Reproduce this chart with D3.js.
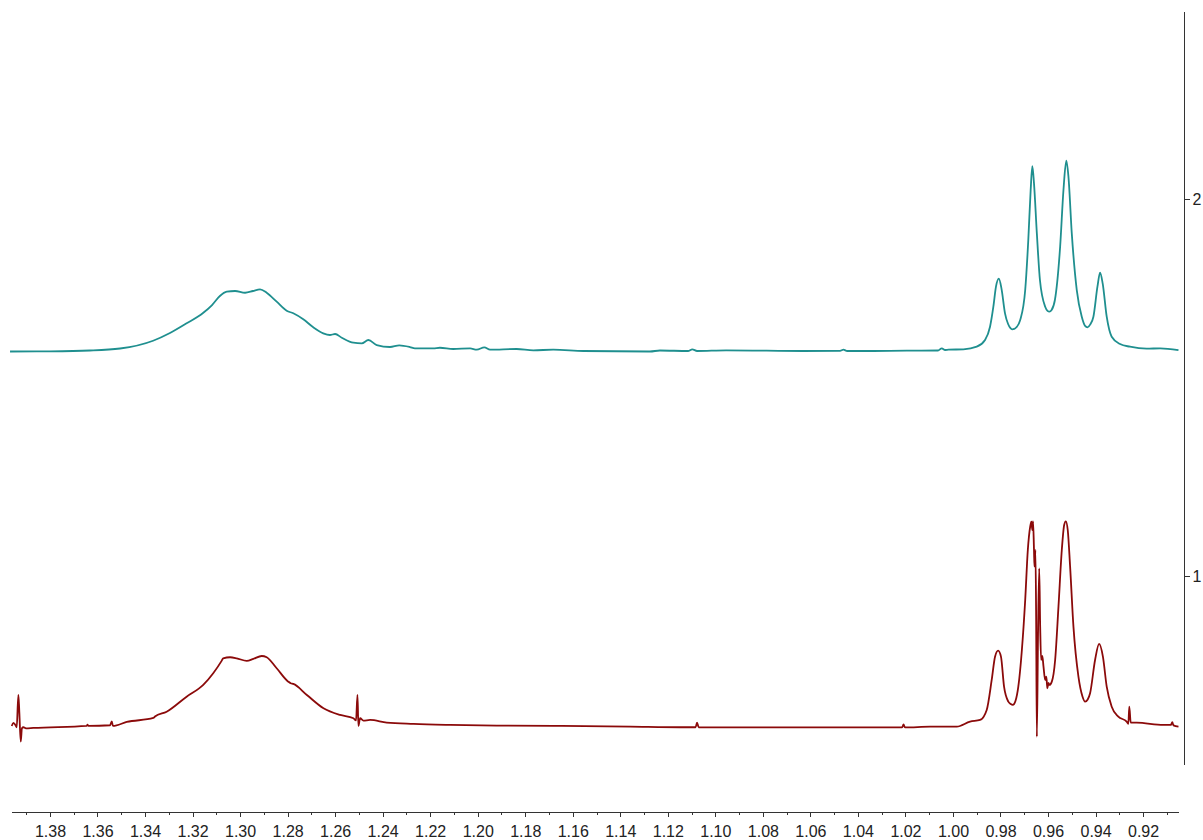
<!DOCTYPE html>
<html>
<head>
<meta charset="utf-8">
<script src="https://cdn.jsdelivr.net/npm/d3@7"></script>
<style>
  html, body { margin: 0; padding: 0; background: #fff; }
  svg { display: block; }
  .axis text { font-family: "Liberation Sans", Arial, sans-serif; font-size: 16px; fill: #222; }
  .axis path, .axis line { stroke: #333; stroke-width: 1; shape-rendering: crispEdges; }
</style>
</head>
<body>
<svg id="chart" width="1203" height="840"></svg>
<script>
// Chemical shift window (ppm), high field on the right
const ppmWindow = [1.3964, 0.9053];
// Stacked intensity scale shown on the right
const intensityWindow = [0.5, 2.5];
const intensityTicks = [1, 2];
const ppmTickLabels = ["1.38", "1.36", "1.34", "1.32", "1.30", "1.28", "1.26", "1.24",
  "1.22", "1.20", "1.18", "1.16", "1.14", "1.12", "1.10", "1.08", "1.06", "1.04",
  "1.02", "1.00", "0.98", "0.96", "0.94", "0.92"];
const ppmMinorTicks = ["1.39", "1.37", "1.35", "1.33", "1.31", "1.29", "1.27", "1.25",
  "1.23", "1.21", "1.19", "1.17", "1.15", "1.13", "1.11", "1.09", "1.07", "1.05",
  "1.03", "1.01", "0.99", "0.97", "0.95", "0.93", "0.91"];

// Upper spectrum: [ppm, intensity]
const upperSpectrum = [
  [1.3968, 1.5960], [1.3800, 1.5965], [1.3632, 1.5986], [1.3505, 1.6039],
  [1.3366, 1.6246], [1.3295, 1.6451], [1.3225, 1.6708], [1.3156, 1.6982],
  [1.3118, 1.7194], [1.3085, 1.7433], [1.3056, 1.7547], [1.3021, 1.7566],
  [1.2979, 1.7520], [1.2946, 1.7566], [1.2916, 1.7611], [1.2888, 1.7520],
  [1.2846, 1.7282], [1.2804, 1.7043], [1.2776, 1.6974], [1.2734, 1.6814],
  [1.2692, 1.6602], [1.2650, 1.6443], [1.2622, 1.6398], [1.2600, 1.6424],
  [1.2572, 1.6326], [1.2523, 1.6193], [1.2488, 1.6177], [1.2460, 1.6265],
  [1.2425, 1.6132], [1.2369, 1.6079], [1.2330, 1.6124], [1.2285, 1.6079],
  [1.2264, 1.6044], [1.2187, 1.6044], [1.2159, 1.6060], [1.2103, 1.6026],
  [1.2032, 1.6044], [1.2004, 1.6007], [1.1972, 1.6071], [1.1948, 1.6007],
  [1.1836, 1.6026], [1.1766, 1.5991], [1.1682, 1.6007], [1.1555, 1.5973],
  [1.1275, 1.5960], [1.1233, 1.5986], [1.1115, 1.5973], [1.1097, 1.6018],
  [1.1077, 1.5973], [1.0955, 1.5991], [1.0784, 1.5981], [1.0631, 1.5973],
  [1.0475, 1.5978], [1.0461, 1.6007], [1.0445, 1.5973], [1.0336, 1.5973],
  [1.0194, 1.5981], [1.0063, 1.5986], [1.0047, 1.6044], [1.0033, 1.5999],
  [1.0019, 1.6007], [0.9956, 1.6018], [0.9900, 1.6087], [0.9865, 1.6265],
  [0.9844, 1.6618], [0.9830, 1.7149], [0.9819, 1.7680], [0.9807, 1.7892],
  [0.9796, 1.7637], [0.9781, 1.6974], [0.9768, 1.6690], [0.9758, 1.6580],
  [0.9751, 1.6549], [0.9742, 1.6560], [0.9734, 1.6597], [0.9717, 1.6796],
  [0.9696, 1.7592], [0.9683, 1.8919],
  [0.9673, 2.0247], [0.9666, 2.0884], [0.9659, 2.0425], [0.9647, 1.9097],
  [0.9634, 1.7858], [0.9612, 1.7149], [0.9602, 1.7040], [0.9594, 1.7016],
  [0.9585, 1.7060], [0.9571, 1.7327],
  [0.9549, 1.8742], [0.9535, 2.0247], [0.9523, 2.1025], [0.9514, 2.0600],
  [0.9500, 1.9097], [0.9479, 1.7592], [0.9458, 1.6883], [0.9444, 1.6640],
  [0.9434, 1.6602], [0.9422, 1.6680],
  [0.9409, 1.6883], [0.9392, 1.7680], [0.9381, 1.8051], [0.9370, 1.7770],
  [0.9353, 1.6883], [0.9332, 1.6352], [0.9297, 1.6159], [0.9255, 1.6087],
  [0.9185, 1.6034], [0.9128, 1.6044], [0.9051, 1.5999]
];

// Lower spectrum: [ppm, intensity]
const lowerSpectrum = [
  [1.3961, 0.6018], [1.3954, 0.6098], [1.3947, 0.6058], [1.3940, 0.5984],
  [1.3933, 0.6841], [1.3929, 0.6390], [1.3923, 0.5601], [1.3918, 0.5957],
  [1.3912, 0.5984], [1.3901, 0.5952], [1.3870, 0.5965], [1.3646, 0.6018],
  [1.3642, 0.6050], [1.3638, 0.6018], [1.3547, 0.6037], [1.3540, 0.6138],
  [1.3535, 0.6018], [1.3477, 0.6124], [1.3365, 0.6230], [1.3358, 0.6270],
  [1.3309, 0.6397], [1.3225, 0.6796], [1.3155, 0.7107], [1.3113, 0.7417],
  [1.3077, 0.7752], [1.3071, 0.7815], [1.3042, 0.7842], [1.3014, 0.7815],
  [1.2972, 0.7744], [1.2944, 0.7797], [1.2909, 0.7876], [1.2888, 0.7842],
  [1.2846, 0.7550], [1.2797, 0.7194], [1.2787, 0.7152], [1.2776, 0.7133],
  [1.2719, 0.6841], [1.2649, 0.6488], [1.2579, 0.6310], [1.2523, 0.6223],
  [1.2512, 0.6164], [1.2506, 0.6841], [1.2502, 0.6018], [1.2495, 0.6223],
  [1.2481, 0.6159], [1.2453, 0.6177], [1.2383, 0.6106], [1.2270, 0.6071],
  [1.2116, 0.6045], [1.1919, 0.6026], [1.1646, 0.6018], [1.1358, 0.6000],
  [1.1148, 0.5984], [1.1083, 0.5984], [1.1077, 0.6106], [1.1070, 0.5984],
  [1.0643, 0.5979], [1.0214, 0.5979], [1.0208, 0.6058], [1.0202, 0.5979],
  [1.0096, 0.6000], [0.9984, 0.6000], [0.9928, 0.6133], [0.9886, 0.6177],
  [0.9858, 0.6443], [0.9837, 0.7239], [0.9823, 0.7858], [0.9810, 0.8017],
  [0.9798, 0.7858], [0.9785, 0.7061], [0.9767, 0.6663], [0.9757, 0.6600],
  [0.9748, 0.6576], [0.9737, 0.6680], [0.9725, 0.7061], [0.9710, 0.8036],
  [0.9696, 0.9363], [0.9685, 1.0690],
  [0.9675, 1.1309], [0.9670, 1.1441], [0.9666, 1.1221], [0.9663, 1.1452],
  [0.9659, 1.0690], [0.9657, 1.0247], [0.9653, 1.0690], [0.9650, 0.8920],
  [0.9647, 0.5734], [0.9642, 0.8479], [0.9637, 1.0204], [0.9633, 0.8654],
  [0.9629, 0.7770], [0.9624, 0.7880], [0.9619, 0.7592], [0.9612, 0.7239],
  [0.9607, 0.7330], [0.9603, 0.7019], [0.9598, 0.7160], [0.9594, 0.7107],
  [0.9584, 0.7194], [0.9570, 0.7770], [0.9556, 0.9185], [0.9542, 1.0690],
  [0.9532, 1.1354], [0.9525, 1.1452], [0.9517, 1.1221], [0.9507, 1.0247],
  [0.9493, 0.8654], [0.9472, 0.7327], [0.9455, 0.6800], [0.9444, 0.6663],
  [0.9433, 0.6720], [0.9423, 0.6886],
  [0.9402, 0.7770], [0.9385, 0.8195], [0.9369, 0.7858], [0.9353, 0.7061],
  [0.9332, 0.6530], [0.9304, 0.6265], [0.9269, 0.6133], [0.9262, 0.6071],
  [0.9258, 0.6530], [0.9252, 0.6106], [0.9227, 0.6106], [0.9115, 0.6045],
  [0.9083, 0.6045], [0.9077, 0.6116], [0.9072, 0.6032], [0.9051, 0.6000]
];

const spectra = [
  { data: upperSpectrum, color: "#1f8f8f" },
  { data: lowerSpectrum, color: "#8b0a0a" }
];

const svg = d3.select("#chart");

const x = d3.scaleLinear().domain(ppmWindow).range([11, 1178]);
const y = d3.scaleLinear().domain(intensityWindow).range([764.3, 11]);

const line = d3.line()
  .x(d => x(d[0]))
  .y(d => y(d[1]))
  .curve(d3.curveMonotoneX);

svg.append("g")
  .selectAll("path")
  .data(spectra)
  .join("path")
  .attr("d", d => line(d.data))
  .attr("fill", "none")
  .attr("stroke", d => d.color)
  .attr("stroke-width", 1.8)
  .attr("stroke-linejoin", "round");

// Bottom ppm axis: minor ticks, then labelled major ticks
const axisY = 811.5;
svg.append("g")
  .attr("class", "axis")
  .attr("transform", `translate(0,${axisY})`)
  .call(d3.axisBottom(x)
    .tickValues(ppmMinorTicks.map(Number))
    .tickSize(3)
    .tickSizeOuter(0)
    .tickFormat(""));

svg.append("g")
  .attr("class", "axis")
  .attr("transform", `translate(0,${axisY})`)
  .call(d3.axisBottom(x)
    .tickValues(ppmTickLabels.map(Number))
    .tickSize(5)
    .tickSizeOuter(0)
    .tickPadding(9)
    .tickFormat((d, i) => ppmTickLabels[i]));

// Right intensity axis
svg.append("g")
  .attr("class", "axis")
  .attr("transform", "translate(1183.5,0)")
  .call(d3.axisRight(y)
    .tickValues(intensityTicks)
    .tickSize(6)
    .tickSizeOuter(0)
    .tickPadding(3)
    .tickFormat(d3.format("d")));
</script>
</body>
</html>
